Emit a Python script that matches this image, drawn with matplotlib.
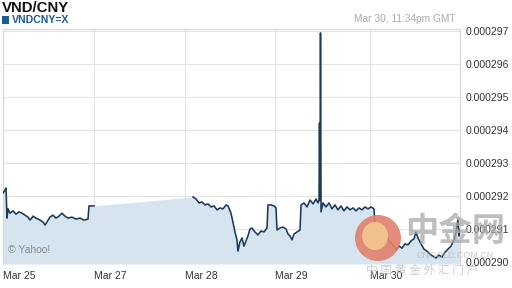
import matplotlib
matplotlib.use("Agg")
import matplotlib.pyplot as plt
import numpy as np
from matplotlib.patches import Ellipse, Rectangle

plt.rcParams['font.family'] = ['Liberation Sans', 'DejaVu Sans']

# ---- data (x in trading-day units from Mar 25 00:00, y = VND/CNY rate) ----
seg1_x = [0.000, 0.022, 0.033, 0.044, 0.055, 0.077, 0.110, 0.143, 0.176, 0.209,
          0.242, 0.275, 0.297, 0.330, 0.363, 0.407, 0.440, 0.462, 0.495, 0.516,
          0.549, 0.582, 0.615, 0.648, 0.681, 0.714, 0.758, 0.802, 0.846, 0.890,
          0.934, 0.945, 1.000]
seg1_y = [292.09, 292.18, 292.24, 291.33, 291.61, 291.48, 291.55, 291.45, 291.52, 291.48,
          291.42, 291.36, 291.27, 291.39, 291.33, 291.27, 291.21, 291.12, 291.27, 291.36,
          291.42, 291.33, 291.39, 291.48, 291.39, 291.33, 291.36, 291.30, 291.33, 291.27,
          291.30, 291.70, 291.70]

seg2_x = [2.088, 2.121, 2.154, 2.187, 2.220, 2.253, 2.286, 2.319, 2.352, 2.385,
          2.418, 2.451, 2.473, 2.505, 2.527, 2.549, 2.571, 2.582, 2.604, 2.626,
          2.648, 2.670, 2.692, 2.714, 2.736, 2.769, 2.802, 2.835, 2.868, 2.901,
          2.912, 2.945, 2.978, 3.000, 3.011, 3.044, 3.077, 3.110, 3.132, 3.154,
          3.176, 3.198, 3.231, 3.264, 3.275, 3.308, 3.341, 3.374, 3.407, 3.440,
          3.462, 3.473, 3.478, 3.484, 3.489, 3.495, 3.516, 3.549, 3.582, 3.615,
          3.648, 3.681, 3.714, 3.747, 3.780, 3.813, 3.846, 3.879, 3.912, 3.945,
          3.978, 4.011, 4.044, 4.077, 4.088, 4.121, 4.165, 4.209, 4.253, 4.286,
          4.319, 4.352, 4.385, 4.418, 4.451, 4.484, 4.516, 4.538, 4.560, 4.593,
          4.626, 4.659, 4.692, 4.725, 4.758, 4.791, 4.824, 4.857, 4.890, 4.923,
          4.956, 4.978, 5.000, 5.011, 5.022]
seg2_y = [291.97, 291.91, 291.79, 291.82, 291.73, 291.76, 291.67, 291.70, 291.58, 291.64,
          291.61, 291.73, 291.70, 291.48, 291.21, 290.91, 290.67, 290.33, 290.61, 290.73,
          290.48, 290.64, 290.79, 291.00, 291.03, 290.91, 290.82, 290.94, 290.91, 291.03,
          291.73, 291.73, 291.70, 291.64, 290.97, 291.03, 291.06, 291.00, 290.85, 290.79,
          290.67, 290.85, 290.91, 290.97, 291.73, 291.79, 291.67, 291.88, 291.76, 291.91,
          291.79, 291.88, 294.21, 291.88, 296.94, 291.52, 291.79, 291.67, 291.79, 291.61,
          291.73, 291.58, 291.70, 291.55, 291.67, 291.58, 291.64, 291.55, 291.64, 291.58,
          291.67, 291.61, 291.67, 291.61, 291.12, 290.91, 290.73, 290.79, 290.61, 290.52,
          290.36, 290.48, 290.42, 290.55, 290.52, 290.64, 290.70, 290.91, 290.73, 290.55,
          290.39, 290.33, 290.24, 290.18, 290.12, 290.21, 290.15, 290.30, 290.39, 290.48,
          290.67, 290.91, 291.30, 290.79, 290.97]

tick_pos = [0.0, 1.0, 2.0, 2.99, 4.03]
tick_labels = ["Mar 25", "Mar 27", "Mar 28", "Mar 29", "Mar 30"]
ytick_vals = [290, 291, 292, 293, 294, 295, 296, 297]

scale = 1e-6
x1 = np.array(seg1_x); y1 = np.array(seg1_y) * scale
x2 = np.array(seg2_x); y2 = np.array(seg2_y) * scale

fig = plt.figure(figsize=(5.12, 2.88), dpi=100)
ax = fig.add_axes([3/512, 1 - 264/288, 457/512, 235/288])

ymin, ymax = 289.94 * scale, 297.06 * scale
ax.set_xlim(0, seg2_x[-1])
ax.set_ylim(ymin, ymax)

# fill (continuous, including the weekend gap)
fx = np.concatenate([x1, x2]); fy = np.concatenate([y1, y2])
ax.fill_between(fx, fy, ymin, color='#d5e4ef', linewidth=0, zorder=1)
line_x = np.concatenate([x1, [np.nan], x2]); line_y = np.concatenate([y1, [np.nan], y2])
ax.plot(line_x, line_y, color='#1c3a58', linewidth=1.15, zorder=3)

ax.set_xticks(tick_pos)
ax.set_xticklabels(tick_labels, ha='left')
ax.set_yticks([v * scale for v in ytick_vals])
ax.set_yticklabels(["%.6f" % (v * scale) for v in ytick_vals])
ax.yaxis.tick_right()
ax.tick_params(axis='both', length=0, labelsize=7.5, colors='#333333')
ax.tick_params(axis='y', pad=4)
ax.tick_params(axis='x', pad=5)
ax.grid(True, color='#e3e3e3', linewidth=0.8, zorder=0)
ax.set_axisbelow(True)
for s in ['left', 'top', 'right']:
    ax.spines[s].set_color('#d8d8d8'); ax.spines[s].set_linewidth(0.8)
ax.spines['bottom'].set_visible(False)

ax.text(0.012, 0.04, "\u00a9 Yahoo!", transform=ax.transAxes, fontsize=7.5,
        color='#8a8a8a', ha='left', va='bottom', zorder=4)

fig.text(2/512, 1 - 8/288, "VND/CNY", fontsize=10.8, fontweight='bold', color='#111111',
         ha='left', va='center')
fig.patches.append(Rectangle((2/512, 1 - 24/288), 7/512, 8/288, transform=fig.transFigure,
                             facecolor='#1d5a96', edgecolor='none'))
fig.text(12/512, 1 - 20/288, "VNDCNY=X", fontsize=7.6, color='#1d5a96', ha='left', va='center',
         fontweight='bold')
fig.text(456/512, 1 - 19/288, "Mar 30, 11:34pm GMT", fontsize=7.3, color='#aaaaaa',
         ha='right', va='center')

# watermark
fig.patches.append(Ellipse((378/512, 1 - 238/288), 46/512, 46/288, transform=fig.transFigure,
                           facecolor='#e2806c', edgecolor='none', alpha=0.9, zorder=5))
fig.patches.append(Ellipse((375/512, 1 - 236/288), 26/512, 28/288, transform=fig.transFigure,
                           facecolor='#f3c58d', edgecolor='none', alpha=0.95, zorder=6))
cjk = ['Noto Sans CJK SC', 'DejaVu Sans']
fig.text(455/512, 1 - 232/288, "中金网", fontsize=24, color='#a8a8a8', alpha=0.75,
         ha='center', va='center', family=cjk, fontweight='bold', zorder=7)
fig.text(455/512, 1 - 256/288, "CNGOLD.COM.CN", fontsize=6.5, color='#bbbbbb', alpha=0.8,
         ha='center', va='center', zorder=7)
fig.text(422/512, 1 - 270/288, "中 国 黄 金 外 汇 门 户", fontsize=8.5, color='#c0c0c0', alpha=0.8,
         ha='center', va='center', family=cjk, zorder=7)

fig.savefig("out.png", dpi=100)
